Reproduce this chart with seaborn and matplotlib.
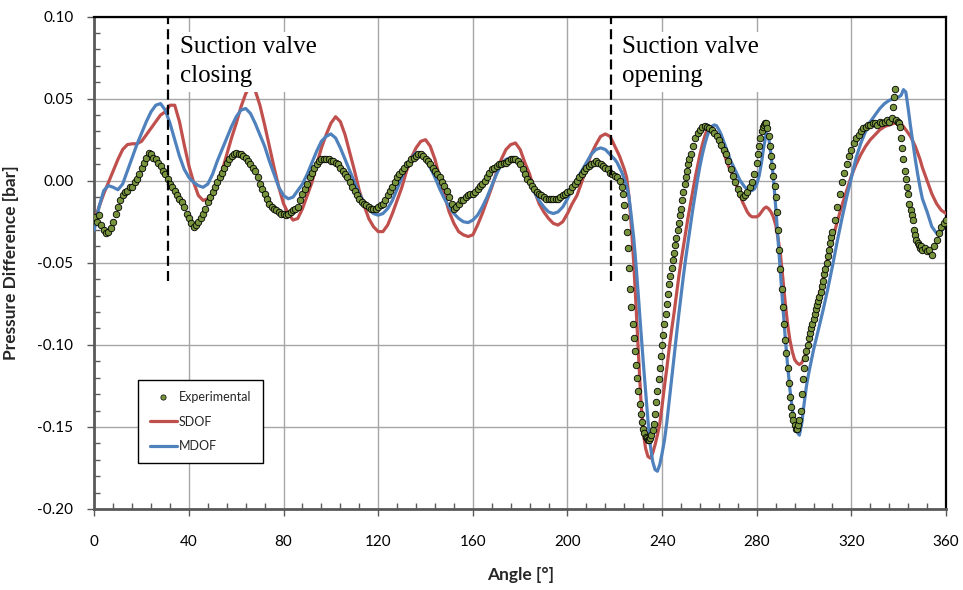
import numpy as np
import pandas as pd
import matplotlib
matplotlib.use("Agg")
import matplotlib.pyplot as plt
import seaborn as sns
from matplotlib.ticker import MultipleLocator, FormatStrFormatter
from matplotlib.lines import Line2D

# ---------------- data ----------------
# model curves: angle grid segments (deg)
line_angle = np.concatenate([np.arange(0, 221, 2), np.arange(221, 307, 1),
                             np.arange(308, 337, 2), np.arange(337, 351, 1),
                             np.arange(352, 361, 2)])

sdof = [
    -0.025, -0.016, -0.008, -0.001, 0.006, 0.013, 0.019, 0.022, 0.0225, 0.0225,
    0.024, 0.028, 0.032, 0.036, 0.040, 0.042, 0.046, 0.046, 0.036, 0.022,
    0.009, -0.001, -0.009, -0.012, -0.011, -0.008, -0.002, 0.006, 0.016, 0.026,
    0.035, 0.045, 0.053, 0.058, 0.055, 0.046, 0.034, 0.021, 0.008, -0.004,
    -0.014, -0.020, -0.024, -0.023, -0.017, -0.009, -0.001, 0.010, 0.020, 0.028,
    0.035, 0.039, 0.036, 0.028, 0.017, 0.006, -0.006, -0.015, -0.023, -0.028,
    -0.031, -0.031, -0.027, -0.020, -0.012, -0.004, 0.006, 0.014, 0.020, 0.024,
    0.025, 0.021, 0.013, 0.002, -0.009, -0.019, -0.026, -0.031, -0.033, -0.034,
    -0.033, -0.027, -0.020, -0.012, -0.004, 0.005, 0.013, 0.019, 0.022, 0.023,
    0.019, 0.011, 0.004, -0.006, -0.014, -0.019, -0.023, -0.026, -0.027, -0.025,
    -0.020, -0.014, -0.009, -0.001, 0.008, 0.016, 0.022, 0.027, 0.0285, 0.027,
    0.021,
    0.018, 0.015, 0.011, 0.007, 0.002, -0.010, -0.028, -0.050, -0.077, -0.106,
    -0.133, -0.153, -0.163, -0.168, -0.169, -0.166, -0.161, -0.155, -0.148, -0.137,
    -0.125, -0.114, -0.102, -0.091, -0.081, -0.070, -0.059, -0.049, -0.040, -0.031,
    -0.022, -0.014, -0.006, 0.002, 0.009, 0.016, 0.022, 0.027, 0.031, 0.0325,
    0.032, 0.030, 0.028, 0.025, 0.021, 0.017, 0.013, 0.009, 0.006, 0.003,
    -0.001, -0.005, -0.009, -0.013, -0.016, -0.019, -0.021, -0.022, -0.022, -0.022,
    -0.021, -0.019, -0.017, -0.016, -0.017, -0.019, -0.022, -0.027, -0.035, -0.045,
    -0.059, -0.074, -0.087, -0.097, -0.104, -0.109, -0.111, -0.112, -0.111, -0.108,
    -0.104, -0.099, -0.093, -0.086, -0.079, -0.072,
    -0.060, -0.047, -0.036, -0.025, -0.015, -0.006, 0.003, 0.010, 0.016, 0.021,
    0.025, 0.028, 0.031, 0.033, 0.034,
    0.0345, 0.035, 0.035, 0.035, 0.0345, 0.033, 0.031, 0.029, 0.027, 0.024,
    0.021, 0.017, 0.013, 0.008,
    0.000, -0.008, -0.014, -0.018, -0.020,
]

mdof = [
    -0.030, -0.016, -0.006, -0.003, -0.004, -0.0055, -0.002, 0.006, 0.014, 0.022,
    0.029, 0.036, 0.042, 0.046, 0.047, 0.043, 0.035, 0.025, 0.015, 0.007,
    0.002, -0.001, -0.003, -0.004, -0.002, 0.004, 0.012, 0.019, 0.026, 0.033,
    0.039, 0.043, 0.044, 0.041, 0.035, 0.028, 0.021, 0.012, 0.004, -0.004,
    -0.009, -0.011, -0.010, -0.006, -0.002, 0.004, 0.011, 0.018, 0.024, 0.027,
    0.0285, 0.026, 0.020, 0.013, 0.006, -0.001, -0.008, -0.013, -0.017, -0.020,
    -0.021, -0.020, -0.017, -0.012, -0.005, 0.002, 0.009, 0.014, 0.017, 0.017,
    0.014, 0.008, 0.002, -0.005, -0.011, -0.016, -0.020, -0.023, -0.025, -0.0255,
    -0.024, -0.021, -0.016, -0.010, -0.003, 0.004, 0.010, 0.013, 0.014, 0.013,
    0.010, 0.005, -0.001, -0.007, -0.012, -0.016, -0.019, -0.020, -0.019, -0.016,
    -0.011, -0.005, 0.001, 0.006, 0.011, 0.016, 0.019, 0.020, 0.019, 0.016,
    0.013,
    0.011, 0.008, 0.005, 0.001, -0.003, -0.010, -0.022, -0.035, -0.052, -0.071,
    -0.091, -0.110, -0.128, -0.146, -0.161, -0.171, -0.176, -0.177, -0.173, -0.166,
    -0.158, -0.147, -0.134, -0.121, -0.108, -0.095, -0.082, -0.070, -0.058, -0.047,
    -0.037, -0.027, -0.017, -0.008, 0.001, 0.009, 0.016, 0.022, 0.027, 0.031,
    0.033, 0.034, 0.0335, 0.031, 0.028, 0.024, 0.020, 0.016, 0.012, 0.009,
    0.006, 0.003, 0.000, -0.002, -0.004, -0.005, -0.006, -0.006, -0.005, -0.002,
    0.003, 0.011, 0.021, 0.029, 0.027, 0.016, 0.002, -0.016, -0.036, -0.056,
    -0.076, -0.095, -0.112, -0.127, -0.139, -0.148, -0.153, -0.155, -0.148, -0.136,
    -0.125, -0.117, -0.110, -0.103, -0.097, -0.091,
    -0.079, -0.066, -0.052, -0.037, -0.023, -0.010, 0.002, 0.014, 0.023, 0.030,
    0.036, 0.040, 0.044, 0.047, 0.049,
    0.0495, 0.050, 0.0505, 0.051, 0.052, 0.0555, 0.054, 0.044, 0.033, 0.023,
    0.013, 0.004, -0.004, -0.011,
    -0.019, -0.028, -0.032, -0.031, -0.025,
]

# experimental samples: angle grid segments (deg)
exp_angle = np.concatenate([np.arange(0, 224, 1), np.arange(223.5, 252.01, 0.5),
                            np.arange(253, 281, 1), np.arange(280.5, 312.01, 0.5),
                            np.arange(313, 338, 1), np.arange(337.5, 350.01, 0.5),
                            np.arange(351, 361, 1)])

exp_dp = [
    -0.022, -0.025, -0.021, -0.027, -0.030, -0.032, -0.031, -0.029, -0.025, -0.020,
    -0.016, -0.012, -0.009, -0.007, -0.006, -0.004, -0.004, -0.001, 0.001, 0.004,
    0.008, 0.011, 0.014, 0.017, 0.016, 0.014, 0.013, 0.011, 0.009, 0.006,
    0.004, 0.001, -0.002, -0.004, -0.006, -0.009, -0.011, -0.013, -0.016, -0.020,
    -0.023, -0.026, -0.028, -0.027, -0.025, -0.023, -0.020, -0.017, -0.013, -0.010,
    -0.007, -0.004, -0.001, 0.002, 0.005, 0.008, 0.011, 0.013, 0.015, 0.016,
    0.017, 0.016, 0.016, 0.015, 0.014, 0.012, 0.010, 0.008, 0.006, 0.002,
    -0.002, -0.005, -0.008, -0.011, -0.014, -0.016, -0.017, -0.018, -0.019, -0.020,
    -0.020, -0.021, -0.020, -0.019, -0.018, -0.017, -0.016, -0.012, -0.008, -0.005,
    -0.002, 0.002, 0.005, 0.008, 0.010, 0.012, 0.013, 0.013, 0.0135, 0.013,
    0.012, 0.012, 0.011, 0.010, 0.008, 0.006, 0.004, 0.002, -0.001, -0.004,
    -0.006, -0.009, -0.011, -0.013, -0.014, -0.015, -0.016, -0.017, -0.017, -0.017,
    -0.016, -0.015, -0.014, -0.012, -0.009, -0.006, -0.004, -0.001, 0.002, 0.004,
    0.006, 0.008, 0.010, 0.011, 0.013, 0.014, 0.015, 0.016, 0.016, 0.015,
    0.013, 0.012, 0.010, 0.008, 0.006, 0.004, 0.002, -0.001, -0.003, -0.006,
    -0.010, -0.014, -0.017, -0.016, -0.014, -0.012, -0.012, -0.010, -0.009, -0.008,
    -0.008, -0.007, -0.005, -0.003, -0.002, 0.000, 0.002, 0.005, 0.007, 0.008,
    0.009, 0.010, 0.010, 0.011, 0.011, 0.012, 0.013, 0.013, 0.013, 0.012,
    0.010, 0.007, 0.004, 0.001, -0.001, -0.003, -0.005, -0.007, -0.008, -0.009,
    -0.010, -0.011, -0.011, -0.011, -0.011, -0.011, -0.011, -0.010, -0.009, -0.008,
    -0.007, -0.006, -0.004, -0.002, 0.000, 0.002, 0.004, 0.006, 0.008, 0.009,
    0.010, 0.011, 0.012, 0.011, 0.010, 0.009, 0.008, 0.007, 0.005, 0.004,
    0.003, 0.002, 0.000, -0.004,
    -0.008, -0.015, -0.022, -0.031, -0.041, -0.053, -0.066, -0.077, -0.087, -0.096,
    -0.104, -0.112, -0.120, -0.128, -0.136, -0.142, -0.147, -0.151, -0.154, -0.156,
    -0.157, -0.158, -0.158, -0.157, -0.155, -0.152, -0.148, -0.142, -0.135, -0.128,
    -0.121, -0.114, -0.107, -0.100, -0.094, -0.087, -0.081, -0.075, -0.069, -0.063,
    -0.058, -0.053, -0.048, -0.044, -0.039, -0.035, -0.030, -0.026, -0.021, -0.017,
    -0.012, -0.007, -0.002, 0.002, 0.006, 0.010, 0.013, 0.016,
    0.021, 0.026, 0.029, 0.031, 0.033, 0.0335, 0.033, 0.032, 0.031, 0.029,
    0.027, 0.025, 0.022, 0.019, 0.016, 0.012, 0.007, 0.003, -0.001, -0.005,
    -0.008, -0.010, -0.009, -0.007, -0.004, -0.001, 0.004, 0.011,
    0.016, 0.021, 0.026, 0.030, 0.033, 0.034, 0.035, 0.035, 0.032, 0.027,
    0.021, 0.015, 0.009, 0.003, -0.003, -0.010, -0.019, -0.030, -0.042, -0.054,
    -0.066, -0.077, -0.087, -0.097, -0.105, -0.114, -0.123, -0.132, -0.138, -0.143,
    -0.146, -0.149, -0.151, -0.151, -0.149, -0.146, -0.140, -0.130, -0.121, -0.114,
    -0.108, -0.104, -0.100, -0.096, -0.093, -0.090, -0.087, -0.084, -0.081, -0.078,
    -0.076, -0.073, -0.071, -0.068, -0.064, -0.061, -0.057, -0.054, -0.050, -0.046,
    -0.042, -0.038, -0.034, -0.031,
    -0.024, -0.016, -0.008, -0.001, 0.005, 0.010, 0.015, 0.019, 0.023, 0.026,
    0.028, 0.030, 0.032, 0.033, 0.034, 0.034, 0.035, 0.035, 0.034, 0.036,
    0.035, 0.036, 0.037, 0.036, 0.038,
    0.045, 0.051, 0.056, 0.037, 0.036, 0.035, 0.033, 0.026, 0.020, 0.013,
    0.006, 0.001, -0.004, -0.008, -0.014, -0.018, -0.021, -0.024, -0.030, -0.033,
    -0.036, -0.038, -0.039, -0.041, -0.040, -0.042,
    -0.041, -0.043, -0.042, -0.045, -0.040, -0.036, -0.032, -0.028, -0.026, -0.024,
]

valve_angles = [31.0, 218.2]
valve_line_bottom = -0.061
valve_labels = ["Suction valve\nclosing", "Suction valve\nopening"]
label_angles = [36.2, 223.0]
label_top = 0.0880

series_names = ["Experimental", "SDOF", "MDOF"]

# ---------------- styling ----------------
RED = "#C0504D"
BLUE = "#4F81BD"
GREEN = "#77933C"

sns.set_theme(style="white")
plt.rcParams['font.family'] = ['Lato', 'DejaVu Sans']
plt.rcParams['axes.unicode_minus'] = False

fig = plt.figure(figsize=(9.63, 5.90), dpi=100)
ax = fig.add_axes([0.0979, 0.1373, 0.8845, 0.8346])

lines_df = pd.DataFrame({"angle": line_angle, "SDOF": sdof, "MDOF": mdof})
exp_df = pd.DataFrame({"angle": exp_angle, "dp": exp_dp})

sns.lineplot(data=lines_df, x="angle", y="SDOF", color=RED, lw=2.3,
             estimator=None, sort=False, ax=ax, zorder=3)
sns.lineplot(data=lines_df, x="angle", y="MDOF", color=BLUE, lw=2.3,
             estimator=None, sort=False, ax=ax, zorder=4)
sns.scatterplot(data=exp_df, x="angle", y="dp", color=GREEN, edgecolor="black",
                linewidth=0.6, s=22, ax=ax, zorder=5)

ax.vlines(valve_angles, valve_line_bottom, 0.1, colors="black", lw=1.6,
          linestyles=[(0, (4.5, 2.3))], zorder=6)

for ang, txt in zip(label_angles, valve_labels):
    ax.text(ang, label_top, txt, family=['Liberation Serif', 'DejaVu Serif'],
            fontsize=18, ha='left', va='top', color='black', zorder=7,
            linespacing=1.42,
            bbox=dict(facecolor='white', edgecolor='none', pad=3))

ax.set_xlim(0, 360)
ax.set_ylim(-0.20, 0.10)
ax.xaxis.set_major_locator(MultipleLocator(40))
ax.xaxis.set_minor_locator(MultipleLocator(8))
ax.yaxis.set_major_locator(MultipleLocator(0.05))
ax.yaxis.set_minor_locator(MultipleLocator(0.01))
ax.yaxis.set_major_formatter(FormatStrFormatter('%.2f'))

ax.grid(True, which='major', color='#A6A6A6', lw=1.0, zorder=0)
ax.set_axisbelow(True)

ax.tick_params(axis='both', which='major', direction='out', length=5, width=1,
               color='#595959', labelsize=11, labelcolor='black')
ax.tick_params(axis='x', which='major', pad=14)
ax.tick_params(axis='y', which='major', pad=10)
ax.tick_params(axis='both', which='minor', direction='in', length=4, width=1,
               color='#595959')
ax.tick_params(bottom=True, left=True, which='both')

for side in ['left', 'bottom']:
    ax.spines[side].set_color('#595959')
    ax.spines[side].set_linewidth(2.0)
for side in ['top', 'right']:
    ax.spines[side].set_color('black')
    ax.spines[side].set_linewidth(1.6)

ax.set_xlabel("Angle [°]", fontsize=12.5, fontweight='bold')
ax.set_ylabel("Pressure Difference [bar]", fontsize=12.5, fontweight='bold')
ax.xaxis.set_label_coords(0.5, -0.118)
ax.yaxis.set_label_coords(-0.088, 0.5)

handles = [
    Line2D([], [], ls='', marker='o', markersize=3.8, markerfacecolor=GREEN,
           markeredgecolor='black', markeredgewidth=0.5),
    Line2D([], [], color=RED, lw=2.3),
    Line2D([], [], color=BLUE, lw=2.3),
]
leg = ax.legend(handles, series_names, loc='upper left',
                bbox_to_anchor=(0.0517, 0.262), borderaxespad=0,
                fontsize=9, handlelength=2.2, handletextpad=0.15,
                borderpad=0.9, labelspacing=1.0, fancybox=False,
                framealpha=1, edgecolor='black')
leg.get_frame().set_linewidth(1.0)
leg.set_zorder(8)

fig.savefig("out.png", dpi=100)
